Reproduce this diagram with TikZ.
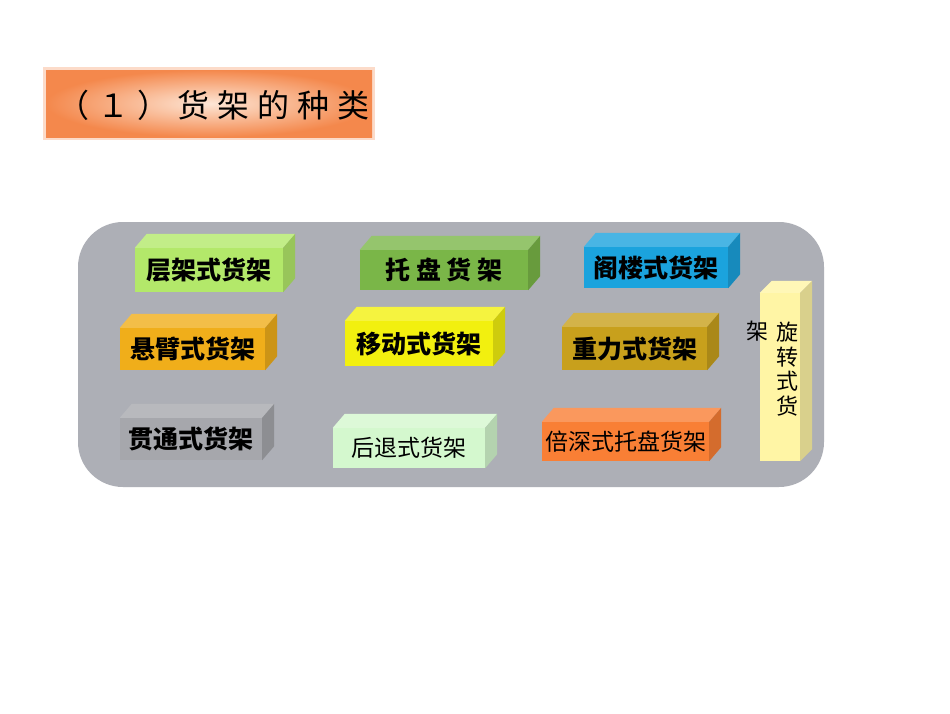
\documentclass[tikz,border=0pt]{standalone}
\usepackage{fontspec}
\newfontfamily\cjk{Noto Sans CJK SC}
\newfontfamily\titlecjk[LetterSpace=25]{Noto Sans CJK SC}
\newfontfamily\widecjk[LetterSpace=22]{Noto Sans CJK SC}
\definecolor{fondo}{HTML}{ADAFB6}
\definecolor{titulo}{HTML}{F4884C}
\definecolor{tituloclaro}{HTML}{FDE6D6}
\definecolor{lima}{HTML}{B3E86A}
\definecolor{verde}{HTML}{7AB648}
\definecolor{azul}{HTML}{1BA3DD}
\definecolor{ambar}{HTML}{F0AE1A}
\definecolor{amarillo}{HTML}{F2F00F}
\definecolor{oro}{HTML}{C8A01C}
\definecolor{gris}{HTML}{A6A7AC}
\definecolor{menta}{HTML}{D4F8CE}
\definecolor{naranja}{HTML}{F97F35}
\definecolor{crema}{HTML}{FFF5A5}
\begin{document}
\begin{tikzpicture}[x=1pt,y=-1pt,
    caja/.style={inner sep=0pt, text=black, font=\cjk\bfseries\fontsize{25}{25}\selectfont},
    cajaancha/.style={caja, font=\widecjk\bfseries\fontsize{25}{25}\selectfont},
    cajafina/.style={caja, font=\cjk\fontsize{23}{23}\selectfont}]
\useasboundingbox (0,0) rectangle (950,713);
\fill[white] (0,0) rectangle (950,713);
% titulo
\fill[titulo!30] (43,67) rectangle (375,140);
\shade[inner color=tituloclaro, outer color=titulo] (46,70) rectangle (372,137);
\begin{scope}
  \clip (46,70) rectangle (372,137);
  \node[anchor=west, inner sep=0pt, font=\titlecjk\fontsize{32}{32}\selectfont] (titulo) at (57,105) {（１）货架的种类};
\end{scope}
% fondo gris
\fill[fondo, rounded corners=45pt] (78,222) rectangle (824,487);
% cajas: cara frontal, tapa y lateral
\foreach \n/\x/\y/\w/\h/\c/\f/\t in {
    capas/209/270/148/44/lima/caja/层架式货架,
    palets/444/270/168/40/verde/cajaancha/托盘货架,
    altillo/656/267.5/144/41/azul/caja/阁楼式货架,
    voladizo/192.5/349/145/42/ambar/caja/悬臂式货架,
    movil/419/343.5/148/45/amarillo/caja/移动式货架,
    gravedad/634.5/348.5/145/43/oro/caja/重力式货架,
    pasante/191/439/142/42/gris/caja/贯通式货架,
    retroceso/409/448/152/40/menta/cajafina/后退式货架,
    doble/625.5/441.5/167/39/naranja/cajafina/倍深式托盘货架}
{
  \node[\f, fill=\c, minimum width=\w, minimum height=\h] (\n) at (\x,\y) {\t};
  \fill[\c!80!white] (\n.north west) -- ++(12,-14) -- ([shift={(12,-14)}]\n.north east) -- (\n.north east) -- cycle; % tapa
  \fill[\c!85!black] (\n.north east) -- ++(12,-14) -- ([shift={(12,-14)}]\n.south east) -- (\n.south east) -- cycle; % lateral
}
% estanteria giratoria
\node[caja, fill=crema, minimum width=40, minimum height=168] (rotativo) at (780,377) {};
\fill[crema!80!white] (rotativo.north west) -- ++(12,-12) -- ([shift={(12,-12)}]rotativo.north east) -- (rotativo.north east) -- cycle;
\fill[crema!85!black] (rotativo.north east) -- ++(12,-12) -- ([shift={(12,-12)}]rotativo.south east) -- (rotativo.south east) -- cycle;
\node[inner sep=0pt, align=center, font=\cjk\fontsize{22}{24.5}\selectfont] (rotxt) at (787,369) {旋\\转\\式\\货};
\node[inner sep=0pt, font=\cjk\fontsize{22}{22}\selectfont] (rotjia) at (757,331) {架};
\end{tikzpicture}
\end{document}
